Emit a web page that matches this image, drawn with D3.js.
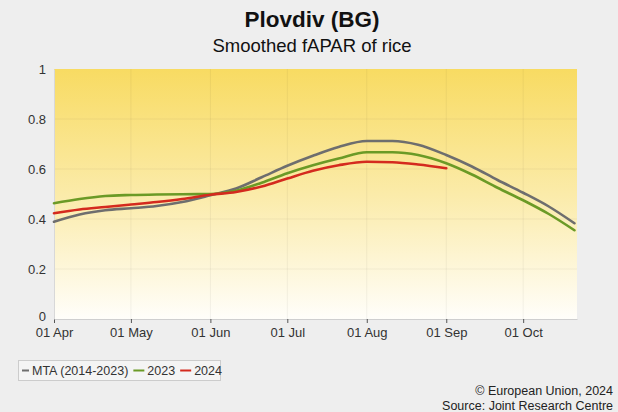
<!DOCTYPE html>
<html>
<head>
<meta charset="utf-8">
<script src="https://cdn.jsdelivr.net/npm/d3@7"></script>
<style>
html,body{margin:0;padding:0;background:#eeeeee;}
svg{display:block;font-family:"Liberation Sans",Arial,sans-serif;}
</style>
</head>
<body>
<svg id="chart" width="618" height="412"></svg>
<script>
const title = "Plovdiv (BG)";
const subtitle = "Smoothed fAPAR of rice";
const dates = ["2024-04-01","2024-04-11","2024-04-21","2024-05-01","2024-05-11","2024-05-21",
  "2024-06-01","2024-06-11","2024-06-21","2024-07-01","2024-07-11","2024-07-21",
  "2024-08-01","2024-08-11","2024-08-21","2024-09-01","2024-09-11","2024-09-21",
  "2024-10-01","2024-10-11","2024-10-21"];
const mta = [0.389,0.418,0.435,0.443,0.452,0.468,0.495,0.522,0.567,0.613,0.653,0.688,
  0.712,0.712,0.697,0.656,0.610,0.556,0.505,0.450,0.383];
const y2023 = [0.463,0.480,0.492,0.496,0.498,0.499,0.500,0.513,0.545,0.583,0.615,0.642,
  0.667,0.667,0.656,0.623,0.578,0.525,0.475,0.420,0.355];
const y2024 = [0.423,0.438,0.448,0.458,0.468,0.480,0.497,0.508,0.530,0.562,0.593,0.615,
  0.629,0.627,0.618,0.603];
const xTickDates = ["2024-04-01","2024-05-01","2024-06-01","2024-07-01","2024-08-01","2024-09-01","2024-10-01"];
const yTicks = [0,0.2,0.4,0.6,0.8,1];
const seriesNames = ["MTA (2014-2023)","2023","2024"];
const seriesColors = ["#6e6e6e","#6b9a26","#d42a1e"];
const footer1 = "© European Union, 2024";
const footer2 = "Source: Joint Research Centre";

const parse = d3.timeParse("%Y-%m-%d");
const fmt = d3.timeFormat("%d %b");
const svg = d3.select("#chart");
const m = {left:54, right:577, top:69, bottom:319};

const x = d3.scaleTime().domain([parse("2024-04-01"), parse("2024-10-22")]).range([m.left, m.right]);
const y = d3.scaleLinear().domain([0,1]).range([m.bottom, m.top]);

// gradient background
const defs = svg.append("defs");
const grad = defs.append("linearGradient").attr("id","bg").attr("x1",0).attr("y1",0).attr("x2",0).attr("y2",1);
grad.append("stop").attr("offset","0%").attr("stop-color","#f8db62");
grad.append("stop").attr("offset","50%").attr("stop-color","#fbeba9");
grad.append("stop").attr("offset","100%").attr("stop-color","#fffefa");
svg.append("rect").attr("x",m.left).attr("y",m.top).attr("width",m.right-m.left).attr("height",m.bottom-m.top).attr("fill","url(#bg)");

// grid
svg.append("g").selectAll("line").data(yTicks.slice(1,-1)).join("line")
  .attr("x1",m.left).attr("x2",m.right).attr("y1",d=>y(d)).attr("y2",d=>y(d))
  .attr("stroke","#000").attr("stroke-opacity",0.05);
svg.append("g").selectAll("line").data(xTickDates.slice(1)).join("line")
  .attr("x1",d=>x(parse(d))).attr("x2",d=>x(parse(d))).attr("y1",m.top).attr("y2",m.bottom)
  .attr("stroke","#000").attr("stroke-opacity",0.05);

// axes
const xAxis = d3.axisBottom(x).tickValues(xTickDates.map(parse)).tickFormat(fmt).tickSizeInner(4).tickSizeOuter(0).tickPadding(5);
const gx = svg.append("g").attr("transform",`translate(0,${m.bottom})`).call(xAxis);
gx.select(".domain").attr("stroke","#cfcfcf");
gx.selectAll(".tick line").attr("stroke","#555");
gx.selectAll("text").attr("font-size",13).attr("fill","#333").attr("font-family","Liberation Sans, Arial, sans-serif");

const yAxis = d3.axisLeft(y).tickValues(yTicks).tickFormat(d3.format("~g")).tickSize(0).tickPadding(8);
const gy = svg.append("g").attr("transform",`translate(${m.left},0)`).call(yAxis);
gy.select(".domain").attr("stroke","#d8d8d8");
gy.selectAll("text").attr("font-size",13).attr("fill","#333").attr("font-family","Liberation Sans, Arial, sans-serif")
  .attr("dy",(d)=> d===0 ? "0.1em" : "0.32em");

// lines
const line = d3.line().x(d=>x(d[0])).y(d=>y(d[1])).curve(d3.curveMonotoneX);
const series = [mta, y2023, y2024];
svg.append("g").selectAll("path").data(series).join("path")
  .attr("d",(s)=>line(s.map((v,i)=>[parse(dates[i]),v])))
  .attr("fill","none").attr("stroke",(d,i)=>seriesColors[i]).attr("stroke-width",2.6)
  .attr("stroke-linejoin","round").attr("stroke-linecap","round");

// titles
svg.append("text").attr("x",312).attr("y",27).attr("text-anchor","middle")
  .attr("font-size",22.5).attr("font-weight","bold").attr("fill","#111").text(title);
svg.append("text").attr("x",312).attr("y",52).attr("text-anchor","middle")
  .attr("font-size",18.5).attr("fill","#111").text(subtitle);

// legend
const lg = svg.append("g");
lg.append("rect").attr("x",18.5).attr("y",360.5).attr("width",202).attr("height",20)
  .attr("fill","#f4f4f4").attr("stroke","#cccccc");
let lx = 22;
seriesNames.forEach((n,i)=>{
  lg.append("line").attr("x1",lx).attr("x2",lx+ (i===0?7:11)).attr("y1",370.5).attr("y2",370.5)
    .attr("stroke",seriesColors[i]).attr("stroke-width",2);
  lx += (i===0?10:14);
  const t = lg.append("text").attr("x",lx).attr("y",375).attr("font-size",12.5).attr("fill","#333").text(n);
  lx += t.node().getComputedTextLength() + 5;
});

// footer
svg.append("text").attr("x",613).attr("y",395).attr("text-anchor","end").attr("font-size",12.5).attr("fill","#222").text(footer1);
svg.append("text").attr("x",613).attr("y",410).attr("text-anchor","end").attr("font-size",12.5).attr("fill","#222").text(footer2);
</script>
</body>
</html>
